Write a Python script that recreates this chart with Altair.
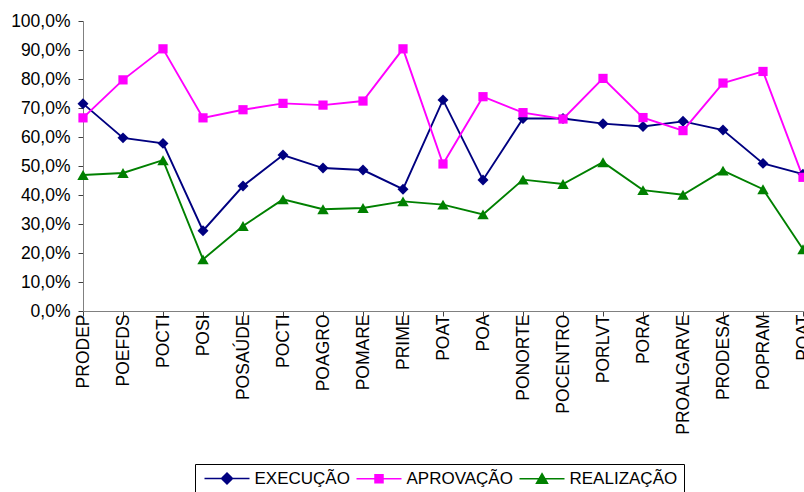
import json
import altair as alt
import pandas as pd

# Operational programmes (two names appear twice, so positions are keyed by index)
categories = ["PRODEP", "POEFDS", "POCTI", "POSI", "POSAÚDE", "POCTI", "POAGRO",
              "POMARE", "PRIME", "POAT", "POA", "PONORTE", "POCENTRO", "PORLVT",
              "PORA", "PROALGARVE", "PRODESA", "POPRAM", "POAT"]

execucao = [71.5, 59.7, 57.8, 27.7, 43.1, 53.8, 49.3, 48.6, 42.0, 72.8, 45.2,
            66.4, 66.4, 64.6, 63.6, 65.4, 62.4, 50.9, 47.2]
aprovacao = [66.6, 79.7, 90.4, 66.6, 69.4, 71.6, 71.0, 72.4, 90.4, 50.7, 73.9,
             68.4, 66.2, 80.2, 66.7, 62.2, 78.6, 82.6, 46.1]
realizacao = [46.9, 47.6, 52.0, 17.8, 29.3, 38.5, 35.1, 35.5, 37.8, 36.7, 33.3,
              45.3, 43.8, 51.3, 41.7, 40.1, 48.4, 42.0, 21.3]

series_names = ["EXECUÇÃO", "APROVAÇÃO", "REALIZAÇÃO"]
series_colors = ["#000080", "#FF00FF", "#008000"]
marker_shapes = ["diamond", "square", "triangle-up"]
marker_sizes = [120, 85, 130]

rows = []
for name, col, vals in zip(series_names, series_colors, [execucao, aprovacao, realizacao]):
    for i, v in enumerate(vals):
        rows.append({"idx": i, "series": name, "hex": col, "value": v})
df = pd.DataFrame(rows)

FONT = "Liberation Sans"
idx_domain = list(range(len(categories)))
label_lookup = json.dumps(categories, ensure_ascii=False)

x_enc = alt.X(
    "idx:O",
    scale=alt.Scale(type="point", domain=idx_domain, padding=0),
    axis=alt.Axis(
        title=None, labelAngle=-90, labelExpr=f"{label_lookup}[datum.value]",
        labelFont=FONT, labelFontSize=17.5, labelColor="#000000",
        labelPadding=-2, tickSize=5, tickColor="#404040",
        domainColor="#808080", labelOverlap=False, grid=False,
    ),
)
y_enc = alt.Y(
    "value:Q",
    scale=alt.Scale(domain=[0, 100], nice=False, zero=True),
    axis=alt.Axis(
        title=None, values=list(range(0, 101, 10)),
        labelExpr="replace(format(datum.value, '.1f'), '.', ',') + '%'",
        labelFont=FONT, labelFontSize=17.5, labelColor="#000000",
        labelPadding=8, tickSize=5, tickColor="#404040",
        domainColor="#808080", grid=False,
    ),
)

# Series colours are taken straight from the data (no scale, no legend)
direct_color = alt.Color("hex:N", scale=None)

base = alt.Chart(df).encode(x=x_enc, y=y_enc)

lines = base.mark_line(strokeWidth=1.9).encode(
    color=direct_color, detail="series:N"
)

# One marker layer per series, each with its own fixed symbol
marker_layers = [
    base.transform_filter(alt.datum.series == name)
    .mark_point(filled=True, opacity=1, shape=shape, size=size)
    .encode(color=direct_color)
    for name, shape, size in zip(series_names, marker_shapes, marker_sizes)
]

# Legend keys: a short line segment with the series marker in its middle
key_paths = [
    "M-4.5,0H4.5M0,-1.1L1.1,0L0,1.1L-1.1,0Z",
    "M-4.5,0H4.5M-0.8,-0.8H0.8V0.8H-0.8Z",
    "M-4.5,0H4.5M0,-1L1.1,0.9L-1.1,0.9Z",
]
legend_def = alt.Legend(
    title=None, orient="none", legendX=112, legendY=443, direction="horizontal",
    symbolSize=100, symbolStrokeWidth=1.5, symbolOpacity=1,
    symbolOffset=17.5, labelOffset=19,
    labelFont=FONT, labelFontSize=17, labelColor="#000000",
    columnPadding=3, padding=6, strokeColor="#000000", fillColor="#FFFFFF",
)
legend_color = alt.Scale(domain=series_names, range=series_colors)
legend_layer = alt.Chart(df).transform_filter("false").mark_point(filled=True).encode(
    fill=alt.Fill("series:N", scale=legend_color, legend=legend_def),
    stroke=alt.Stroke("series:N", scale=legend_color, legend=legend_def),
    shape=alt.Shape("series:N",
                    scale=alt.Scale(domain=series_names, range=key_paths),
                    legend=legend_def),
)

chart = (
    alt.layer(lines, *marker_layers, legend_layer)
    .properties(
        width=720, height=290,
        autosize=alt.AutoSizeParams(type="none"),
        padding={"left": 83, "top": 21, "right": 1, "bottom": 181},
        background="#FFFFFF",
    )
    .configure_view(fill="#FFFFCC", strokeWidth=0)
)

chart.save("out.html", embed_options={"renderer": "svg", "actions": False})
